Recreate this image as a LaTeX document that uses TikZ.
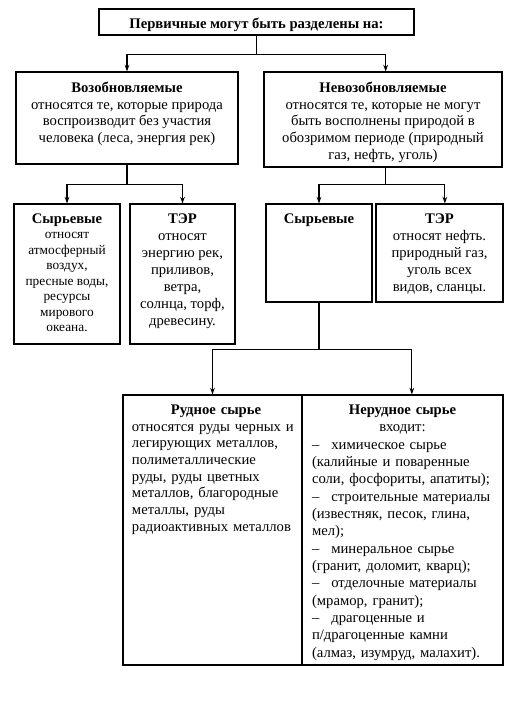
\documentclass[tikz,border=0pt]{standalone}
\usepackage{fontspec}
\setmainfont{Liberation Serif}
\usetikzlibrary{arrows.meta, positioning, fit}
\tikzset{
    box/.style={
        rectangle,
        draw,
        line width=0.8pt,
        inner sep=0pt
    },
    lbl/.style={
        anchor=north,
        inner sep=0pt,
        align=center,
        yshift=-7.5pt,
        font=\fontsize{11}{12.6}\selectfont
    },
    arr/.style={
        -{Stealth[length=5pt, width=3.5pt]},
        line width=0.8pt
    }
}
\newcommand{\itm}{–\hspace{9pt}}
\newcommand{\ctrline}[1]{\makebox[\hsize]{#1}}

\begin{document}
\begin{tikzpicture}[x=0.75pt, y=-0.75pt]
    \useasboundingbox (0,0) rectangle (505,708);
    % first level
    \node[box, fit={(99,9) (414,35)}] (first) {};
    \node[anchor=base, inner sep=0pt, yshift=5.5pt, font=\fontsize{11}{12.6}\selectfont\bfseries] (firsttxt) at (first.south) {Первичные могут быть разделены на:};
    % second level
    \node[box, fit={(16,72) (238,164)}] (renew) {};
    \node[lbl] (renewtxt) at (renew.north) {\textbf{Возобновляемые}\\ относятся те, которые природа\\ воспроизводит без участия\\ человека (леса, энергия рек)};
    \node[box, fit={(264,72) (502,167)}] (nonrenew) {};
    \node[lbl] (nonrenewtxt) at (nonrenew.north) {\textbf{Невозобновляемые}\\ относятся те, которые не могут\\ быть восполнены природой в\\ обозримом периоде (природный\\ газ, нефть, уголь)};
    % third level
    \node[box, fit={(14,204) (120,344)}] (rawL) {};
    \node[lbl, font=\fontsize{10}{11.6}\selectfont] (rawLtxt) at (rawL.north) {{\fontsize{11}{11.6}\selectfont\bfseries Сырьевые}\\ относят\\ атмосферный\\ воздух,\\ пресные воды,\\ ресурсы\\ мирового\\ океана.};
    \node[box, fit={(130,204) (235,344)}] (fuelL) {};
    \node[lbl, font=\fontsize{11}{12.7}\selectfont] (fuelLtxt) at (fuelL.north) {\textbf{ТЭР}\\ относят\\ энергию рек,\\ приливов,\\ ветра,\\ солнца, торф,\\ древесину.};
    \node[box, fit={(266,204) (372,302)}] (rawR) {};
    \node[lbl] (rawRtxt) at (rawR.north) {\textbf{Сырьевые}};
    \node[box, fit={(376,204) (503,302)}] (fuelR) {};
    \node[lbl, font=\fontsize{11}{12.75}\selectfont] (fuelRtxt) at (fuelR.north) {\textbf{ТЭР}\\ относят нефть.\\ природный газ,\\ уголь всех\\ видов, сланцы.};
    % fourth level
    \node[box, fit={(123,395) (302,665)}] (ore) {};
    \node[lbl, align=left, text width=126pt, xshift=2.6pt, font=\fontsize{11}{12.5}\selectfont] (oretxt) at (ore.north) {\ctrline{\textbf{Рудное сырье}}\\
        относятся руды черных и\\
        легирующих металлов,\\
        полиметаллические\\
        руды, руды цветных\\
        металлов, благородные\\
        металлы, руды\\
        радиоактивных металлов};
    \node[box, fit={(302,395) (503,665)}] (nonore) {};
    \node[lbl, align=left, text width=135.75pt, font=\fontsize{11}{13}\selectfont] (nonoretxt) at (nonore.north) {\ctrline{\textbf{Нерудное сырье}}\\
        \ctrline{входит:}\\
        \itm химическое сырье\\
        (калийные и поваренные\\
        соли, фосфориты, апатиты);\\
        \itm строительные материалы\\
        (известняк, песок, глина,\\
        мел);\\
        \itm минеральное сырье\\
        (гранит, доломит, кварц);\\
        \itm отделочные материалы\\
        (мрамор, гранит);\\
        \itm драгоценные и\\
        п/драгоценные камни\\
        (алмаз, изумруд, малахит).};
    % connectors
    \draw[arr] (first.south) -- ++(0,19) -| (renew.north);
    \draw[arr] (first.south) -- ++(0,19) -| ([xshift=2pt]nonrenew.north);
    \draw[arr] (renew.south) -- ++(0,20) -| (rawL.north);
    \draw[arr] (renew.south) -- ++(0,20) -| (fuelL.north);
    \draw[arr] ([xshift=2pt]nonrenew.south) -- ++(0,17) -| (rawR.north);
    \draw[arr] ([xshift=2pt]nonrenew.south) -- ++(0,17) -| ([xshift=4pt]fuelR.north);
    \draw[arr] (rawR.south) -- ++(0,47) -| (ore.north);
    \draw[arr] (rawR.south) -- ++(0,47) -| ([xshift=7pt]nonore.north);
\end{tikzpicture}
\end{document}
